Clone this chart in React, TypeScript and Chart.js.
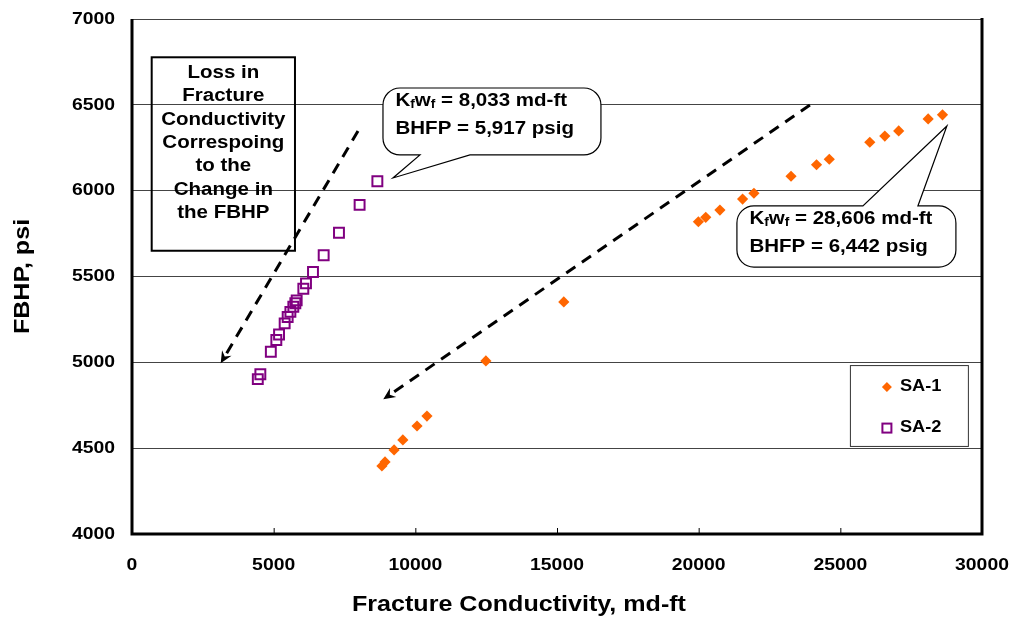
import React, { useEffect, useRef } from 'react';
import { Chart, registerables } from 'chart.js';

Chart.register(...registerables);

// Axis ranges and ticks
const X_MIN = 0;
const X_MAX = 30000;
const X_STEP = 5000;
const Y_MIN = 4000;
const Y_MAX = 7000;
const Y_STEP = 500;

const X_TITLE = 'Fracture Conductivity, md-ft';
const Y_TITLE = 'FBHP, psi';
const SERIES_NAMES = ['SA-1', 'SA-2'];

// SA-1: fracture conductivity (md-ft) vs flowing bottom-hole pressure (psi)
const SA1_CONDUCTIVITY = [
  8820, 8930, 9250, 9560, 10060, 10410, 12490, 15240, 19990, 20250, 20750,
  21550, 21950, 23260, 24160, 24610, 26040, 26570, 27060, 28100, 28606,
];
const SA1_FBHP = [
  4396, 4420, 4490, 4548, 4629, 4687, 5008, 5352, 5819, 5845, 5887,
  5951, 5985, 6084, 6151, 6183, 6282, 6318, 6348, 6418, 6442,
];

// SA-2
const SA2_CONDUCTIVITY = [
  8660, 8033, 7305, 6765, 6388, 6141, 6047, 5812, 5765, 5694, 5590,
  5494, 5388, 5190, 5094, 4900, 4530, 4440,
];
const SA2_FBHP = [
  6055, 5917, 5755, 5624, 5526, 5460, 5429, 5361, 5344, 5324, 5294,
  5264, 5227, 5162, 5130, 5062, 4931, 4902,
];

// Note text and callout values
const NOTE_LINES = ['Loss in', 'Fracture', 'Conductivity', 'Correspoing', 'to the', 'Change in', 'the FBHP'];
const CALLOUT_SA2 = { kfwf: '8,033', bhfp: '5,917' };
const CALLOUT_SA1 = { kfwf: '28,606', bhfp: '6,442' };

// Annotation geometry, in data units (conductivity, psi)
const NOTE_BOX = { x0: 695, x1: 5752, y0: 6777, y1: 5650 };
const ARROWS = [
  { x0: 7976, y0: 6347, x1: 3130, y1: 4994 },
  { x0: 23927, y0: 6499, x1: 8868, y1: 4785 },
];
const CALLOUT_BOX_SA2 = { x0: 8858, x1: 16551, y0: 6598, y1: 6208, b0: 10164, b1: 11928, tx: 9211, ty: 6074, side: 'bottom' };
const CALLOUT_BOX_SA1 = { x0: 21350, x1: 29079, y0: 5911, y1: 5555, b0: 25797, b1: 27738, tx: 28761, ty: 6377, side: 'top' };
const LEGEND_BOX = { x0: 25338, x1: 29502, y0: 4984, y1: 4513 };

const ORANGE = '#FF6600';
const PURPLE = '#800080';
const FONT = '"Liberation Sans", Arial, Helvetica, sans-serif';
const STRETCH = 1.14;

function drawText(
  ctx: CanvasRenderingContext2D,
  s: string,
  x: number,
  y: number,
  size: number,
  align: CanvasTextAlign = 'left',
  rotate = 0,
) {
  ctx.save();
  ctx.font = `bold ${size}px ${FONT}`;
  ctx.textAlign = align;
  ctx.textBaseline = 'middle';
  ctx.fillStyle = '#000';
  ctx.translate(x, y);
  if (rotate) ctx.rotate(rotate);
  ctx.scale(STRETCH, 1);
  ctx.fillText(s, 0, 0);
  ctx.restore();
}

function textWidth(ctx: CanvasRenderingContext2D, s: string, size: number) {
  ctx.save();
  ctx.font = `bold ${size}px ${FONT}`;
  const w = ctx.measureText(s).width * STRETCH;
  ctx.restore();
  return w;
}

// "KfWf = value md-ft" with subscripts
function drawKfwf(ctx: CanvasRenderingContext2D, x: number, y: number, value: string) {
  const big = 18;
  const sub = 12;
  let cx = x;
  drawText(ctx, 'K', cx, y, big);
  cx += textWidth(ctx, 'K', big);
  drawText(ctx, 'f', cx, y + 4, sub);
  cx += textWidth(ctx, 'f', sub);
  drawText(ctx, 'w', cx, y, big);
  cx += textWidth(ctx, 'w', big);
  drawText(ctx, 'f', cx, y + 4, sub);
  cx += textWidth(ctx, 'f', sub);
  drawText(ctx, ` = ${value} md-ft`, cx, y, big);
}

function calloutPath(
  ctx: CanvasRenderingContext2D,
  l: number, t: number, r: number, b: number, rad: number,
  side: string, b0: number, b1: number, tx: number, ty: number,
) {
  ctx.beginPath();
  ctx.moveTo(l + rad, t);
  if (side === 'top') {
    ctx.lineTo(b0, t);
    ctx.lineTo(tx, ty);
    ctx.lineTo(b1, t);
  }
  ctx.arcTo(r, t, r, b, rad);
  ctx.arcTo(r, b, l, b, rad);
  if (side === 'bottom') {
    ctx.lineTo(b1, b);
    ctx.lineTo(tx, ty);
    ctx.lineTo(b0, b);
  }
  ctx.arcTo(l, b, l, t, rad);
  ctx.arcTo(l, t, r, t, rad);
  ctx.closePath();
}

const decorations = {
  id: 'decorations',
  afterDatasetsDraw(chart: any) {
    const ctx: CanvasRenderingContext2D = chart.ctx;
    const xs = chart.scales.x;
    const ys = chart.scales.y;
    const area = chart.chartArea;
    const px = (v: number) => xs.getPixelForValue(v);
    const py = (v: number) => ys.getPixelForValue(v);

    ctx.save();

    // Note box (outline only)
    {
      const l = px(NOTE_BOX.x0), r = px(NOTE_BOX.x1), t = py(NOTE_BOX.y0), b = py(NOTE_BOX.y1);
      ctx.strokeStyle = '#000';
      ctx.lineWidth = 2;
      ctx.strokeRect(l, t, r - l, b - t);
      const cx = (l + r) / 2;
      NOTE_LINES.forEach((s, i) => drawText(ctx, s, cx, t + 15.5 + i * 23.4, 18, 'center'));
    }

    // Dashed arrows
    ARROWS.forEach((a) => {
      const x0 = px(a.x0), y0 = py(a.y0), x1 = px(a.x1), y1 = py(a.y1);
      const ang = Math.atan2(y1 - y0, x1 - x0);
      const headLen = 12;
      const bx = x1 - Math.cos(ang) * headLen;
      const by = y1 - Math.sin(ang) * headLen;
      ctx.save();
      ctx.strokeStyle = '#000';
      ctx.lineWidth = 3;
      ctx.setLineDash([11, 8]);
      ctx.beginPath();
      ctx.moveTo(x0, y0);
      ctx.lineTo(bx + Math.cos(ang) * 4, by + Math.sin(ang) * 4);
      ctx.stroke();
      ctx.setLineDash([]);
      ctx.fillStyle = '#000';
      ctx.beginPath();
      ctx.moveTo(x1, y1);
      ctx.lineTo(bx + Math.cos(ang + Math.PI / 2) * 5.5, by + Math.sin(ang + Math.PI / 2) * 5.5);
      ctx.lineTo(x1 - Math.cos(ang) * 8, y1 - Math.sin(ang) * 8);
      ctx.lineTo(bx - Math.cos(ang + Math.PI / 2) * 5.5, by - Math.sin(ang + Math.PI / 2) * 5.5);
      ctx.closePath();
      ctx.fill();
      ctx.restore();
    });

    // Callouts
    [
      { box: CALLOUT_BOX_SA2, vals: CALLOUT_SA2 },
      { box: CALLOUT_BOX_SA1, vals: CALLOUT_SA1 },
    ].forEach(({ box, vals }) => {
      const l = px(box.x0), r = px(box.x1), t = py(box.y0), b = py(box.y1);
      calloutPath(ctx, l, t, r, b, 17, box.side, px(box.b0), px(box.b1), px(box.tx), py(box.ty));
      ctx.fillStyle = '#fff';
      ctx.fill();
      ctx.strokeStyle = '#000';
      ctx.lineWidth = 1.2;
      ctx.stroke();
      drawKfwf(ctx, l + 12.5, t + 13, vals.kfwf);
      drawText(ctx, `BHFP = ${vals.bhfp} psig`, l + 12.5, t + 41, 18);
    });

    // Legend
    {
      const l = px(LEGEND_BOX.x0), r = px(LEGEND_BOX.x1), t = py(LEGEND_BOX.y0), b = py(LEGEND_BOX.y1);
      ctx.fillStyle = '#fff';
      ctx.fillRect(l, t, r - l, b - t);
      ctx.strokeStyle = '#333';
      ctx.lineWidth = 1;
      ctx.strokeRect(l + 0.5, t + 0.5, r - l, b - t);
      const mx = l + 37;
      const r1 = t + 22;
      const r2 = t + 63;
      ctx.fillStyle = ORANGE;
      ctx.beginPath();
      ctx.moveTo(mx - 5, r1);
      ctx.lineTo(mx, r1 - 5);
      ctx.lineTo(mx + 5, r1);
      ctx.lineTo(mx, r1 + 5);
      ctx.closePath();
      ctx.fill();
      ctx.strokeStyle = PURPLE;
      ctx.lineWidth = 2;
      ctx.strokeRect(mx - 4.5, r2 - 4.5, 9, 9);
      drawText(ctx, SERIES_NAMES[0], l + 50, r1, 16);
      drawText(ctx, SERIES_NAMES[1], l + 50, r2, 16);
    }

    // Plot frame: heavy left, bottom, right
    ctx.strokeStyle = '#000';
    ctx.lineWidth = 3;
    ctx.beginPath();
    ctx.moveTo(area.left, area.top);
    ctx.lineTo(area.left, area.bottom);
    ctx.lineTo(area.right, area.bottom);
    ctx.lineTo(area.right, area.top - 1);
    ctx.stroke();

    // Inner tick marks on the x axis
    ctx.lineWidth = 1;
    xs.ticks.forEach((t: any) => {
      const x = px(t.value);
      if (x <= area.left + 2 || x >= area.right - 2) return;
      ctx.beginPath();
      ctx.moveTo(x + 0.5, area.bottom);
      ctx.lineTo(x + 0.5, area.bottom - 6);
      ctx.stroke();
    });

    // Tick labels
    ys.ticks.forEach((t: any) => drawText(ctx, String(t.value), area.left - 17, py(t.value), 17, 'right'));
    xs.ticks.forEach((t: any) => drawText(ctx, String(t.value), px(t.value), area.bottom + 31, 17, 'center'));

    // Axis titles
    drawText(ctx, X_TITLE, area.left + 387, area.bottom + 71, 22, 'center');
    drawText(ctx, Y_TITLE, 23, (area.top + area.bottom) / 2, 22, 'center', -Math.PI / 2);

    ctx.restore();
  },
};

export default function App() {
  const canvasRef = useRef<HTMLCanvasElement | null>(null);

  useEffect(() => {
    if (!canvasRef.current) return;
    const sa1 = SA1_CONDUCTIVITY.map((x, i) => ({ x, y: SA1_FBHP[i] }));
    const sa2 = SA2_CONDUCTIVITY.map((x, i) => ({ x, y: SA2_FBHP[i] }));

    const chart = new Chart(canvasRef.current, {
      type: 'scatter',
      data: {
        datasets: [
          {
            label: SERIES_NAMES[0],
            data: sa1,
            pointStyle: 'rectRot',
            pointRadius: 5.6,
            backgroundColor: ORANGE,
            borderColor: ORANGE,
            borderWidth: 0,
          },
          {
            label: SERIES_NAMES[1],
            data: sa2,
            pointStyle: 'rect',
            pointRadius: 7,
            backgroundColor: 'rgba(0,0,0,0)',
            borderColor: PURPLE,
            borderWidth: 2,
          },
        ],
      },
      options: {
        animation: false,
        responsive: true,
        maintainAspectRatio: false,
        layout: { padding: { top: 19, right: 34, left: 0, bottom: 0 } },
        plugins: {
          legend: { display: false },
          tooltip: { enabled: false },
        },
        scales: {
          x: {
            type: 'linear',
            min: X_MIN,
            max: X_MAX,
            ticks: { stepSize: X_STEP, display: false },
            grid: { display: false },
            border: { display: false },
            afterFit: (scale: any) => {
              scale.height = 86;
            },
          },
          y: {
            type: 'linear',
            min: Y_MIN,
            max: Y_MAX,
            ticks: { stepSize: Y_STEP, display: false },
            grid: { color: '#444', lineWidth: 1, drawTicks: false },
            border: { display: false },
            afterFit: (scale: any) => {
              scale.width = 132;
            },
          },
        },
      },
      plugins: [decorations],
    });

    return () => chart.destroy();
  }, []);

  return (
    <div style={{ position: 'fixed', left: 0, top: 0, width: 1016, height: 620, background: '#fff' }}>
      <canvas ref={canvasRef} />
    </div>
  );
}
